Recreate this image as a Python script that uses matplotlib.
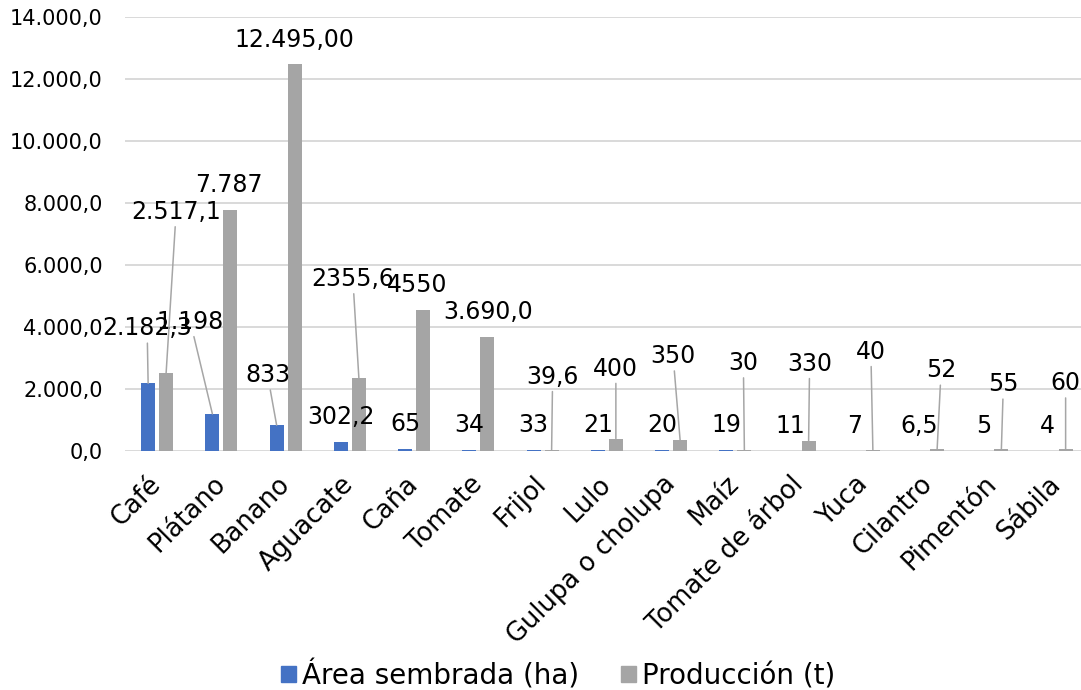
import matplotlib
matplotlib.use("Agg")
import matplotlib.pyplot as plt
from matplotlib.patches import Patch
from matplotlib.ticker import FuncFormatter, MultipleLocator
import numpy as np

plt.rcParams['font.family'] = ['DejaVu Sans']

cultivos = ["Café", "Plátano", "Banano", "Aguacate", "Caña", "Tomate", "Frijol",
            "Lulo", "Gulupa o cholupa", "Maíz", "Tomate de árbol", "Yuca",
            "Cilantro", "Pimentón", "Sábila"]

area = [2182.3, 1198, 833, 302.2, 65, 34, 33, 21, 20, 19, 11, 7, 6.5, 5, 4]
produccion = [2517.1, 7787, 12495.00, 2355.6, 4550, 3690.0, 39.6, 400, 350,
              30, 330, 40, 52, 55, 60]

area_txt = ["2.182,3", "1.198", "833", "302,2", "65", "34", "33", "21", "20",
            "19", "11", "7", "6,5", "5", "4"]
prod_txt = ["2.517,1", "7.787", "12.495,00", "2355,6", "4550", "3.690,0",
            "39,6", "400", "350", "30", "330", "40", "52", "55", "60"]

# label offsets from the top of each bar, in pixels (dx, dy)
area_off = [(-1, 55), (-22, 92), (-9, 50)] + [(0, 25)] * 12
prod_off = [(10, 161), (-1, 25), (0, 24), (-6, 99), (-6, 25), (1, 25),
            (1, 73), (0, 70), (-7, 84), (-1, 87), (1, 77), (-2, 98),
            (4, 79), (2, 65), (0, 66)]

c_area = '#4472C4'
c_prod = '#A5A5A5'
c_grid = '#D9D9D9'

fig = plt.figure(figsize=(10.81, 6.90), dpi=100)
ax = fig.add_axes([125 / 1081, 239 / 690, 963.75 / 1081, 434 / 690])

x = np.arange(len(cultivos))
w = 0.22
b1 = ax.bar(x - 0.14, area, w, color=c_area, zorder=3)
b2 = ax.bar(x + 0.14, produccion, w, color=c_prod, zorder=3)

ax.set_xlim(-0.5, len(cultivos) - 0.5)
ax.set_ylim(0, 14000)
ax.yaxis.set_major_locator(MultipleLocator(2000))
ax.yaxis.set_major_formatter(FuncFormatter(
    lambda v, p: '{:,.1f}'.format(v).replace(',', 'X').replace('.', ',').replace('X', '.')))
ax.grid(axis='y', color=c_grid, lw=1.4, zorder=0)
for s in ax.spines.values():
    s.set_visible(False)
ax.tick_params(axis='y', length=0, pad=16, labelsize=15)
ax.tick_params(axis='x', length=0, pad=21)
ax.set_xticks(x)
ax.set_xticklabels(cultivos, rotation=45, ha='right', va='center',
                   rotation_mode='anchor', fontsize=18.5)


def etiquetas(bars, textos, offs):
    for rect, t, (dx, dy) in zip(bars, textos, offs):
        px = rect.get_x() + rect.get_width() / 2
        py = rect.get_height()
        arrow = None
        if dy > 35:
            arrow = dict(arrowstyle='-', color='#A6A6A6', lw=1.1,
                         shrinkA=0, shrinkB=0)
        ax.annotate(t, (px, py), xytext=(dx, dy), textcoords='offset pixels',
                    ha='center', va='center', fontsize=17, color='#000000',
                    arrowprops=arrow, zorder=4, annotation_clip=False)


etiquetas(b1, area_txt, area_off)
etiquetas(b2, prod_txt, prod_off)

handles = [Patch(color=c_area), Patch(color=c_prod)]
fig.legend(handles, ['Área sembrada (ha)', 'Producción (t)'], loc='center',
           bbox_to_anchor=(558 / 1081, 1 - 675 / 690), ncol=2, frameon=False,
           fontsize=20, handlelength=0.54, handleheight=0.54,
           handletextpad=0.22, columnspacing=1.5)

fig.savefig('out.png', dpi=100)
